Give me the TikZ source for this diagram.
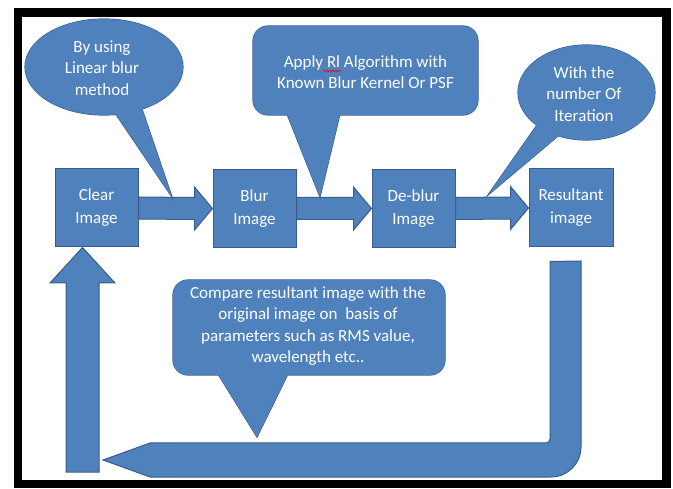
\documentclass[tikz,border=0pt]{standalone}
\usepackage{fontspec}
\setmainfont{Carlito}
\usetikzlibrary{calc,shapes.geometric,decorations.pathmorphing}
\definecolor{bfill}{HTML}{4F81BD}
\definecolor{bline}{HTML}{385D8A}
\begin{document}
\begin{tikzpicture}[x=1pt,y=-1pt,
  shp/.style={fill=bfill,draw=bline,line width=1.2pt},
  box/.style={rectangle,fill=bfill,draw=bline,line width=1pt,minimum width=83,minimum height=78,inner sep=0pt,
    text=white,font=\fontsize{17}{23}\selectfont,align=center},
  ctxt/.style={text=white,font=\fontsize{17}{21.5}\selectfont,align=center,inner sep=0pt},
  blk/.style={fill=bfill,draw=bline,line width=1pt,line join=miter}]
\useasboundingbox (0,0) rectangle (673,489);
\fill[white] (0,0) rectangle (673,489);
\draw[line width=8.5pt] (18,12.5) rectangle (666.5,484);

% boxes
\node[box] (clear) at (96.5,208) {Clear\\Image};
\node[box] (blur) at (254.5,208.5) {Blur\\Image};
\node[box] (deblur) at (413.5,208.5) {De-blur\\Image};
\node[box,minimum width=84] (result) at (571,208) {Resultant\\image};

% block arrows between boxes
\draw[blk] ($(clear.east)+(0,-11)$) -- ($(blur.west)+(-18,-11)$) -- ($(blur.west)+(-18,-21.5)$) -- (blur.west)
  -- ($(blur.west)+(-18,21.5)$) -- ($(blur.west)+(-18,11)$) -- ($(clear.east)+(0,11)$) -- cycle;
\draw[blk] ($(blur.east)+(0,-11)$) -- ($(deblur.west)+(-18,-11)$) -- ($(deblur.west)+(-18,-21.5)$) -- (deblur.west)
  -- ($(deblur.west)+(-18,21.5)$) -- ($(deblur.west)+(-18,11)$) -- ($(blur.east)+(0,11)$) -- cycle;
\draw[blk] ($(deblur.east)+(0,-11)$) -- ($(result.west)+(-18,-11)$) -- ($(result.west)+(-18,-21.5)$) -- (result.west)
  -- ($(result.west)+(-18,21.5)$) -- ($(result.west)+(-18,11)$) -- ($(deblur.east)+(0,11)$) -- cycle;

% up arrow into Clear Image
\coordinate (uptip) at ($(clear.south)+(-14,0)$);
\draw[blk] (66,472) -- (66,283) -- (50,283) -- (uptip) -- (115,283) -- (99,283) -- (99,472) -- cycle;

% return arrow from Resultant image
\coordinate (ret) at ($(result.south)+(-21,14)$);
\draw[blk] (ret) -- (581,261) -- (581,447) arc[start angle=0,end angle=90,radius=30]
  -- (150,477) -- (103,460) -- (150,443) -- (546,443) arc[start angle=90,end angle=0,radius=4] -- cycle;

% callout 1 (ellipse)
\draw[shp] (104,67) ellipse[x radius=79,y radius=48];
\draw[shp,line join=miter] (116,114.5) -- (172,197) -- (142,109) -- cycle;
\fill[bfill] (116,114.5) -- (172,197) -- (142,109) -- cycle;
\fill[bfill] (104,67) ellipse[x radius=79,y radius=48];
\node[ctxt] (t1) at (102,68) {By using\\Linear blur\\method};

% callout 2 (rounded rectangle)
\draw[shp,rounded corners=15] (253,26) rectangle (478,115);
\draw[shp,line join=miter] (287,114) -- (320,197) -- (340,114) -- cycle;
\fill[bfill] (287,114) -- (320,197) -- (340,114) -- cycle;
\fill[bfill,rounded corners=15] (253,26) rectangle (478,115);
\node[ctxt] (t2) at (365.5,72) {Apply Rl Algorithm with\\Known Blur Kernel Or PSF};
\coordinate (sqa) at (323,71);
\coordinate (sqb) at (341,71);
\draw[red,line width=0.6pt,decorate,decoration={snake,amplitude=0.8pt,segment length=3pt}] (sqa) -- (sqb);

% callout 3 (ellipse)
\draw[shp] (586.5,92.5) ellipse[x radius=68.5,y radius=47.5];
\draw[shp,line join=miter] (537,125) -- (488,195) -- (558,136) -- cycle;
\fill[bfill] (537,125) -- (488,195) -- (558,136) -- cycle;
\fill[bfill] (586.5,92.5) ellipse[x radius=68.5,y radius=47.5];
\node[ctxt] (t3) at (584,94) {With the\\number Of\\Iteration};

% callout 4 (rounded rectangle)
\draw[shp,rounded corners=15] (173,280) rectangle (445,375);
\draw[shp,line join=miter] (218,374) -- (257,437) -- (288,374) -- cycle;
\fill[bfill] (218,374) -- (257,437) -- (288,374) -- cycle;
\fill[bfill,rounded corners=15] (173,280) rectangle (445,375);
\node[ctxt] (t4) at (308,326) {Compare resultant image with the\\original image on\ \ basis of\\parameters such as RMS value,\\wavelength etc..};
\end{tikzpicture}
\end{document}
